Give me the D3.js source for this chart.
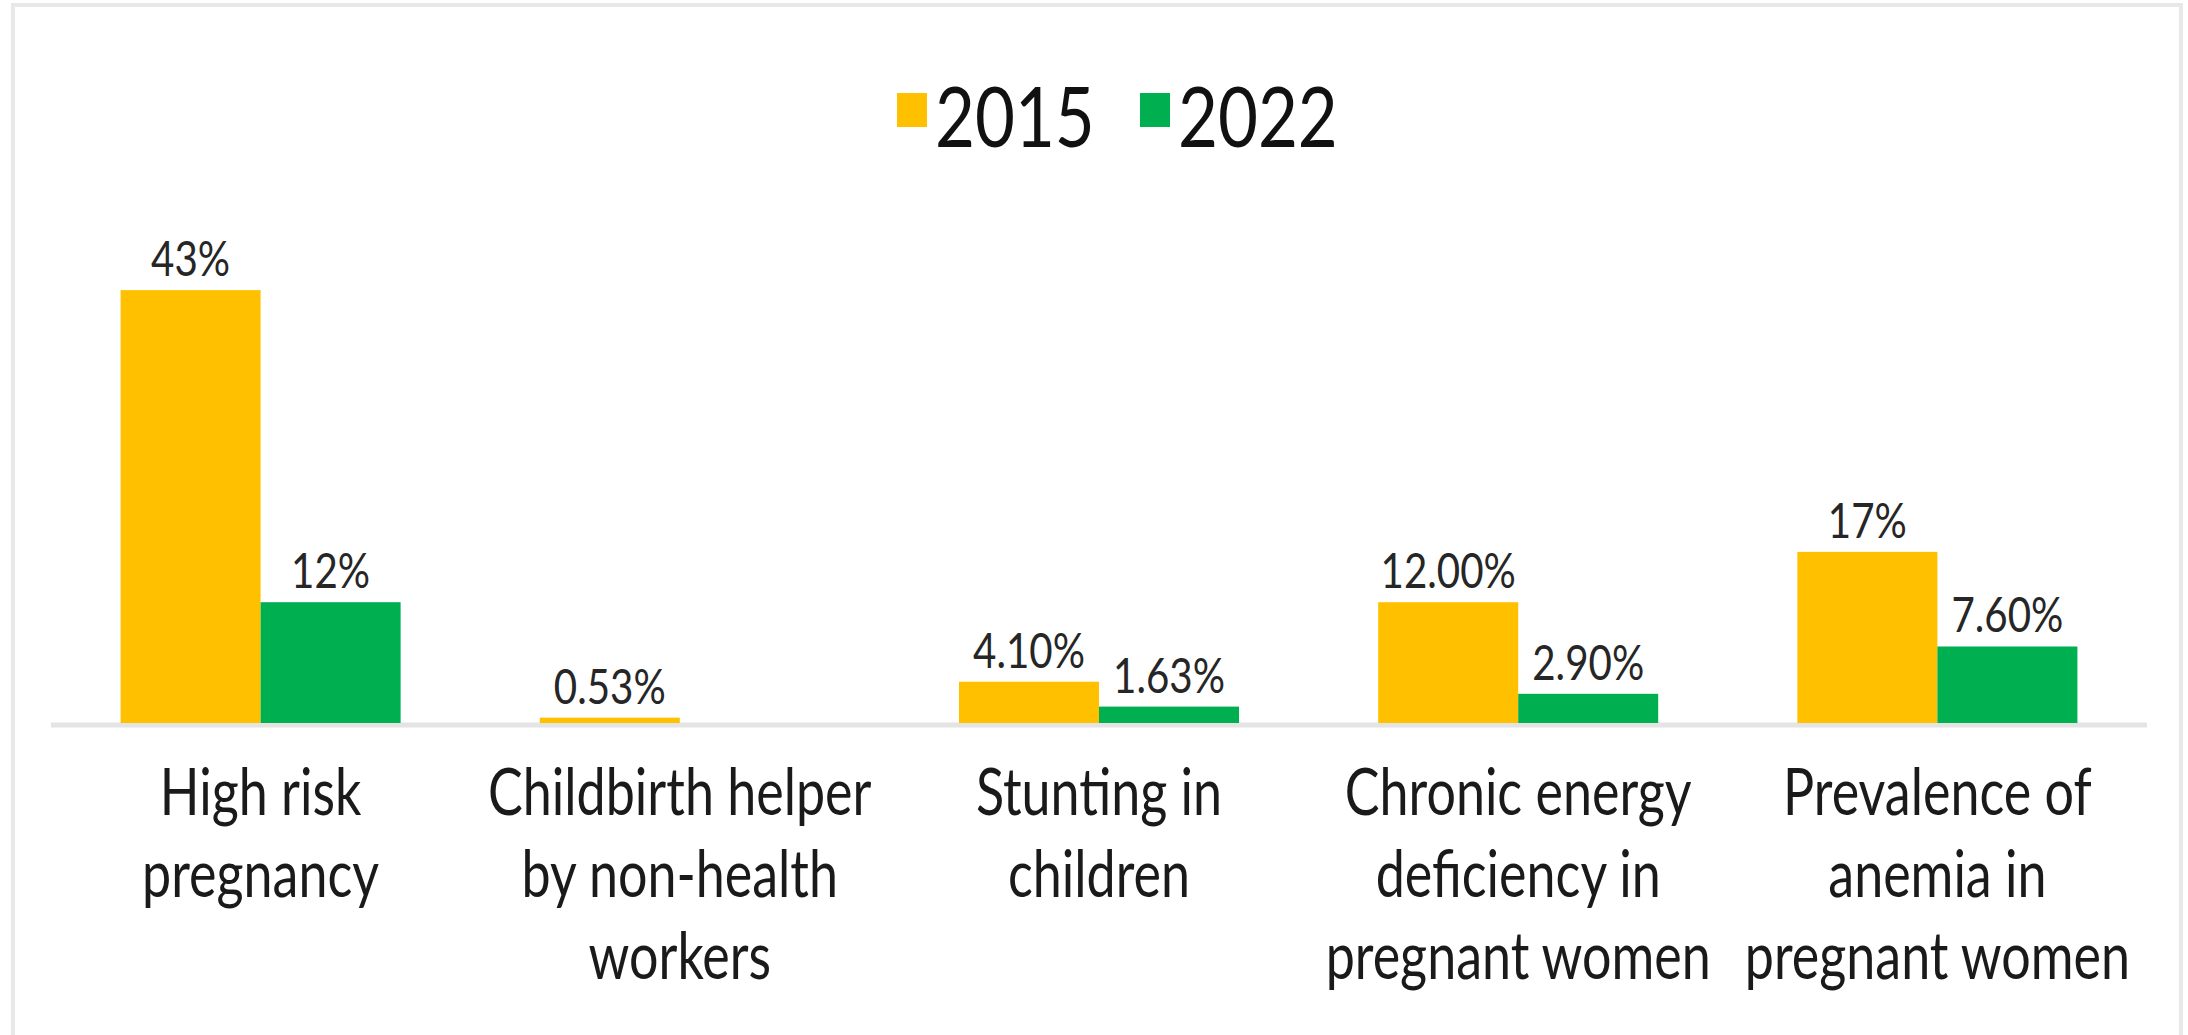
<!DOCTYPE html>
<html>
<head>
<meta charset="utf-8">
<script src="https://cdn.jsdelivr.net/npm/d3@7"></script>
<style>
    html, body { margin: 0; padding: 0; background: #fff; }
    svg { display: block; }
    text { font-family: Lato, "Open Sans", sans-serif; }
</style>
</head>
<body>
<div class="container"></div>
<script>
var categories = ['High risk pregnancy', 'Childbirth helper by non-health workers', 'Stunting in children',
    'Chronic energy deficiency in pregnant women', 'Prevalence of anemia in pregnant women'];
var categoryLines = [
    ['High risk', 'pregnancy'],
    ['Childbirth helper', 'by non-health', 'workers'],
    ['Stunting in', 'children'],
    ['Chronic energy', 'deficiency in', 'pregnant women'],
    ['Prevalence of', 'anemia in', 'pregnant women']
];
var seriesNames = ['2015', '2022'];
var values2015 = [43, 0.53, 4.10, 12.00, 17];
var values2022 = [12, null, 1.63, 2.90, 7.60];
var labels2015 = ['43%', '0.53%', '4.10%', '12.00%', '17%'];
var labels2022 = ['12%', '', '1.63%', '2.90%', '7.60%'];
var colors = ['#FFC000', '#00B050'];

var WIDTH = 2188, HEIGHT = 1035;

var svg = d3.select('.container').append('svg')
    .attr('width', WIDTH)
    .attr('height', HEIGHT);

// frame
svg.append('rect')
    .attr('x', 13).attr('y', 5)
    .attr('width', 2168).attr('height', 1100)
    .attr('fill', 'none')
    .attr('stroke', '#e8e8e8')
    .attr('stroke-width', 4);

var xScale = d3.scaleBand()
    .domain(categories)
    .range([51, 2147])
    .paddingInner(0.332)
    .paddingOuter(0.166);

var xSub = d3.scaleBand()
    .domain(seriesNames)
    .range([0, xScale.bandwidth()]);

var yScale = d3.scaleLinear()
    .domain([0, 45])
    .range([723, 270]);

var rows = categories.map(function (c, i) {
    return {
        cat: c,
        bars: [
            {s: '2015', v: values2015[i], label: labels2015[i]},
            {s: '2022', v: values2022[i], label: labels2022[i]}
        ]
    };
});

// axis line
svg.append('line')
    .attr('x1', xScale.range()[0]).attr('x2', xScale.range()[1])
    .attr('y1', yScale(0) + 2).attr('y2', yScale(0) + 2)
    .attr('stroke', '#e4e4e4')
    .attr('stroke-width', 5);

var groups = svg.selectAll('.group')
    .data(rows)
    .enter()
    .append('g')
    .attr('class', 'group')
    .attr('transform', function (d) { return 'translate(' + xScale(d.cat) + ',0)'; });

var bars = groups.selectAll('.bar')
    .data(function (d) { return d.bars.filter(function (b) { return b.v !== null; }); })
    .enter();

bars.append('rect')
    .attr('x', function (d) { return xSub(d.s); })
    .attr('y', function (d) { return yScale(d.v); })
    .attr('width', xSub.bandwidth())
    .attr('height', function (d) { return yScale(0) - yScale(d.v); })
    .attr('fill', function (d) { return colors[seriesNames.indexOf(d.s)]; });

bars.append('text')
    .attr('transform', function (d) {
        return 'translate(' + (xSub(d.s) + xSub.bandwidth() / 2) + ',' + (yScale(d.v) - 14) + ') scale(0.84,1)';
    })
    .attr('text-anchor', 'middle')
    .attr('font-size', 48)
    .attr('fill', '#262626')
    .text(function (d) { return d.label; });

// category labels
categories.forEach(function (c, i) {
    var cx = xScale(c) + xScale.bandwidth() / 2;
    categoryLines[i].forEach(function (line, j) {
        svg.append('text')
            .attr('transform', 'translate(' + cx + ',' + (815 + j * 82) + ') scale(0.8,1)')
            .attr('text-anchor', 'middle')
            .attr('font-size', 65)
            .attr('fill', '#1a1a1a')
            .text(line);
    });
});

// legend
var legendX = [897, 1140];
var legend = svg.selectAll('.legend')
    .data(seriesNames)
    .enter()
    .append('g')
    .attr('class', 'legend');

legend.append('rect')
    .attr('x', function (d, i) { return legendX[i]; })
    .attr('y', 93)
    .attr('width', 30)
    .attr('height', 34)
    .attr('fill', function (d, i) { return colors[i]; });

legend.append('text')
    .attr('transform', function (d, i) { return 'translate(' + (legendX[i] + 38) + ',147) scale(0.83,1)'; })
    .attr('font-size', 83)
    .attr('fill', '#111')
    .text(function (d) { return d; });
</script>
</body>
</html>
